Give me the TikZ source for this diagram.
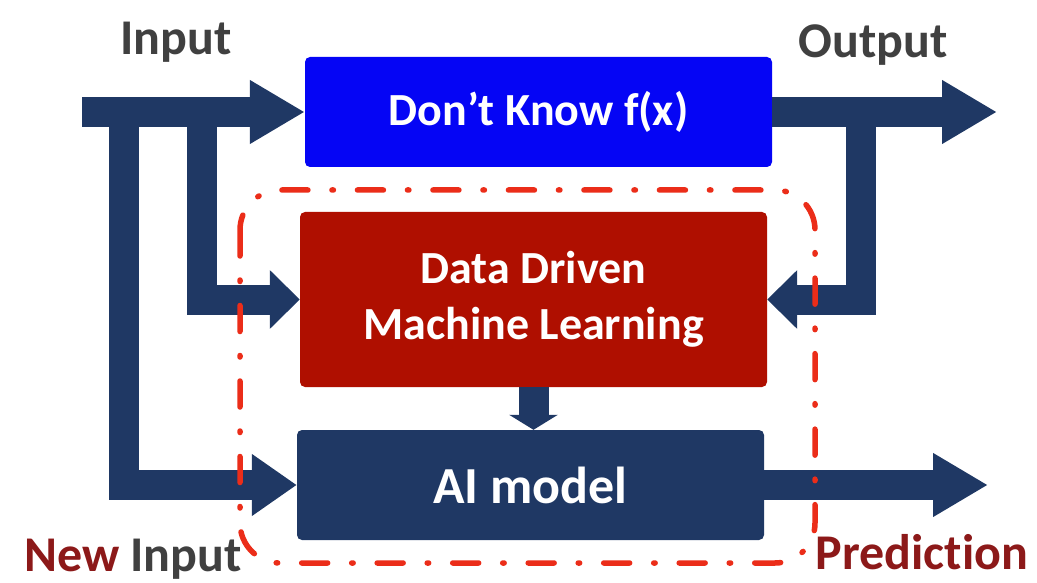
\documentclass[tikz,border=0pt]{standalone}
\usepackage{fontspec}
\setmainfont{Carlito}[Ligatures={TeX,NoCommon}]
\usetikzlibrary{arrows.meta}
\definecolor{navy}{RGB}{31,56,100}
\definecolor{fblue}{RGB}{5,5,245}
\definecolor{mlred}{RGB}{175,15,0}
\definecolor{dashred}{RGB}{235,45,25}
\definecolor{labgray}{RGB}{64,64,64}
\definecolor{labred}{RGB}{140,25,25}
\begin{document}
\begin{tikzpicture}[x=1pt,y=-1pt,
	blk/.style={rectangle,rounded corners=5pt,inner sep=0pt,minimum width=467pt,text=white,
		font=\fontsize{46}{56}\selectfont\bfseries,align=center},
	flow/.style={draw=navy,line width=30pt,-{Triangle[length=55pt,width=60pt]}},
	shortflow/.style={flow,-{Triangle[length=30pt,width=57pt]}},
	lab/.style={font=\fontsize{50}{60}\selectfont\bfseries,anchor=base}]
	\useasboundingbox (0,0) rectangle (1037,583);
	% the three blocks
	\node[blk,fill=fblue,minimum height=110pt] (f) at (538.5,112) {Don't Know f(x)};
	\node[blk,fill=mlred,minimum height=175pt] (ml) at (533.5,299.5) {Data Driven\\Machine Learning};
	\node[blk,fill=navy,minimum height=110pt,font=\fontsize{52}{60}\selectfont\bfseries] (ai) at (530.5,485) {AI model};
	% branch points and free ends
	\coordinate (in) at (82,112);
	\coordinate (out) at (997,112);
	\coordinate (pred) at (988,485);
	\coordinate (lsplit) at (124,112);
	\coordinate (rsplit) at (202,112);
	\coordinate (osplit) at (861,112);
	% flows
	\draw[flow] (in) -- (f.west);
	\draw[flow] (f.east) -- (out);
	\draw[flow] (ai.east) -- (pred);
	\draw[flow,-{Triangle[length=45pt,width=59pt]}] (lsplit) |- (ai.west);
	\draw[shortflow] (rsplit) |- (ml.west);
	\draw[shortflow] (osplit) |- (ml.east);
	\draw[flow,-{Triangle[length=15pt,width=48pt]}] (ml.south) -- (ml.south |- ai.north);
	% dash-dot frame
	\draw[dashred,line width=5.5pt,rounded corners=40pt,line cap=round,
		dash pattern=on 26pt off 24pt on 1.5pt off 24pt] (240,190) rectangle (815,563);
	% labels
	\node[lab,text=labgray] (inlab) at (176,55) {Input};
	\node[lab,text=labgray] (outlab) at (873,58) {Output};
	\node[lab] (newlab) at (133,571) {\textcolor{labred}{New} \textcolor{labgray}{Input}};
	\node[lab,text=labred] (predlab) at (922,569) {Prediction};
\end{tikzpicture}
\end{document}
